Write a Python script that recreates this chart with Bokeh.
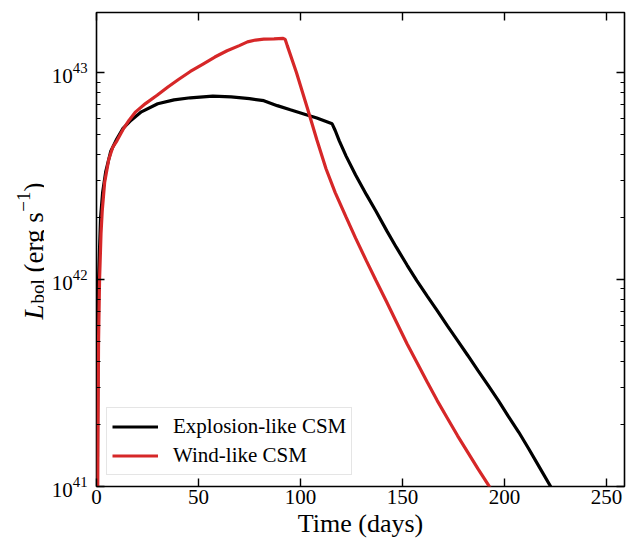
import numpy as np
from bokeh.plotting import figure
from bokeh.layouts import row
from bokeh.models import (Range1d, LinearAxis, LogAxis, FixedTicker, Legend, LegendItem,
                          Label, LogTickFormatter, CustomJSTickFormatter)
from bokeh.embed import file_html
from bokeh.resources import INLINE

# ---- data ----
explosion_t = [0.3, 0.5, 0.8, 1.0, 2.0, 3.0, 4.5, 7.0, 10.0, 13.0, 17.0, 22.0, 30.0, 38.0,
               46.0, 57.0, 66.0, 75.0, 82.0, 88.6, 95.0, 101.6, 108.0, 115.5, 117.0, 119.0,
               122.4, 127.0, 132.3, 137.0, 142.3, 147.0, 152.2, 157.0, 162.1, 167.0, 172.0,
               177.0, 182.0, 187.0, 191.9, 197.0, 201.8, 207.0, 211.7, 217.0, 222.6, 230.0]
explosion_logL = [40.5, 41.3, 41.8, 42.0, 42.30, 42.42, 42.52, 42.62, 42.68, 42.73, 42.77,
                  42.81, 42.849, 42.868, 42.878, 42.886, 42.882, 42.874, 42.864, 42.84, 42.82,
                  42.80, 42.78, 42.752, 42.72, 42.67, 42.595, 42.505, 42.41, 42.33, 42.235,
                  42.155, 42.07, 41.995, 41.92, 41.85, 41.776, 41.705, 41.633, 41.56, 41.49,
                  41.415, 41.34, 41.262, 41.185, 41.095, 41.0, 40.87]

wind_t = [0.4, 0.7, 1.0, 1.5, 2.2, 2.8, 4.0, 6.0, 8.0, 10.0, 13.0, 16.0, 19.2, 24.0, 29.7,
          35.0, 40.0, 46.0, 52.0, 58.0, 64.0, 70.0, 74.0, 78.0, 82.0, 87.0, 91.5, 92.5, 93.5,
          98.0, 103.6, 108.0, 112.5, 117.0, 122.4, 127.0, 132.3, 137.0, 142.3, 147.0, 152.2,
          157.0, 162.1, 167.0, 172.0, 177.0, 182.0, 187.0, 191.9, 197.0]
wind_logL = [40.5, 41.2, 41.7, 42.0, 42.22, 42.33, 42.47, 42.58, 42.64, 42.67, 42.725,
             42.77, 42.81, 42.85, 42.89, 42.93, 42.965, 43.005, 43.04, 43.075, 43.105, 43.13,
             43.148, 43.157, 43.161, 43.163, 43.165, 43.16, 43.13, 43.00, 42.82, 42.675,
             42.535, 42.42, 42.30, 42.20, 42.09, 41.995, 41.89, 41.795, 41.69, 41.60, 41.505,
             41.415, 41.33, 41.245, 41.165, 41.085, 41.01, 40.93]

series_names = ["Explosion-like CSM", "Wind-like CSM"]
series_colors = ["black", "#d62728"]
x_ticks = [0, 50, 100, 150, 200, 250]
y_ticks = [1e41, 1e42, 1e43]
y_minor = [k * 10.0 ** n for n in (41, 42, 43) for k in range(2, 10)]
x_title = "Time (days)"

SERIF = "Liberation Serif"
H = 544
LEFT_W = 44
TOP_B = 12
BOT_B = 58

p = figure(width=630 - LEFT_W, height=H, output_backend="svg", toolbar_location=None,
           y_axis_type="log", x_range=Range1d(0, 258.8), y_range=Range1d(1e41, 1.95e43),
           min_border_left=96 - LEFT_W, min_border_right=6, min_border_top=TOP_B,
           min_border_bottom=BOT_B)
p.grid.visible = False
p.outline_line_color = "black"
p.outline_line_width = 1.6
p.background_fill_color = "white"
p.border_fill_alpha = 0

r1 = p.line(explosion_t, [10.0 ** v for v in explosion_logL], line_color=series_colors[0],
            line_width=3.2)
r2 = p.line(wind_t, [10.0 ** v for v in wind_logL], line_color=series_colors[1],
            line_width=3.2)

xt = FixedTicker(ticks=x_ticks, minor_ticks=[])
yt = FixedTicker(ticks=y_ticks, minor_ticks=y_minor)

def style_axis(ax, labels=True):
    ax.axis_line_color = None
    ax.major_tick_in = 8
    ax.major_tick_out = 0
    ax.minor_tick_in = 4
    ax.minor_tick_out = 0
    ax.major_tick_line_width = 1.4
    ax.minor_tick_line_width = 1.1
    ax.major_tick_line_color = "black"
    ax.minor_tick_line_color = "black"
    if labels:
        ax.major_label_text_font = SERIF
        ax.major_label_text_font_size = "21px"
        ax.major_label_text_color = "black"
        ax.major_label_standoff = 3
    else:
        ax.formatter = CustomJSTickFormatter(code="return ''")
        ax.major_label_standoff = 0

p.xaxis.ticker = xt
p.yaxis.ticker = yt
p.yaxis.formatter = LogTickFormatter()
style_axis(p.xaxis[0])
style_axis(p.yaxis[0])
p.yaxis.major_label_standoff = 9

p.xaxis.axis_label = x_title
p.xaxis.axis_label_text_font = SERIF
p.xaxis.axis_label_text_font_size = "26px"
p.xaxis.axis_label_text_font_style = "normal"
p.xaxis.axis_label_text_color = "black"
p.xaxis.axis_label_standoff = 2

top_ax = LinearAxis(ticker=xt)
right_ax = LogAxis(ticker=yt)
style_axis(top_ax, labels=False)
style_axis(right_ax, labels=False)
p.add_layout(top_ax, "above")
p.add_layout(right_ax, "right")

legend = Legend(items=[LegendItem(label=series_names[0], renderers=[r1]),
                       LegendItem(label=series_names[1], renderers=[r2])],
                location=(10, 11), orientation="vertical")
legend.label_text_font = SERIF
legend.label_text_font_size = "21px"
legend.label_text_color = "black"
legend.glyph_width = 46
legend.glyph_height = 27
legend.label_height = 27
legend.label_standoff = 15
legend.spacing = 2
legend.padding = 5
legend.margin = 0
legend.border_line_color = "#cccccc"
legend.border_line_width = 1
legend.background_fill_alpha = 0.8
p.add_layout(legend)

# ---- y axis title in a narrow side figure: L_bol (erg s^-1) ----
# Its frame is aligned with the main frame (page y 12..486); the reversed y range makes
# the data value equal to the page pixel row.
q = figure(width=LEFT_W, height=H, output_backend="svg", toolbar_location=None,
           x_range=Range1d(0, LEFT_W), y_range=Range1d(H - BOT_B, TOP_B),
           x_axis_location=None, y_axis_location=None,
           min_border=0, min_border_left=0, min_border_right=0, min_border_top=TOP_B,
           min_border_bottom=BOT_B)
q.grid.visible = False
q.outline_line_color = None
q.background_fill_alpha = 0
q.border_fill_alpha = 0

big = 27
small = 19
# (text, font px, style, baseline x, gap before, advance)
pieces = [
    ("L", big, "italic", 33, 0, 0.556 * big + 1),
    ("bol", small, "normal", 37, 0, 1.278 * small),
    ("(erg s", big, "normal", 33, 0.25 * big, 2.249 * big),
    ("\u22121", small, "normal", 23, 0, 1.064 * small),
    (")", big, "normal", 33, 0, 0.333 * big),
]
ypos = 319
for txt, fs, style, bx, gap, w in pieces:
    ypos -= gap
    q.add_layout(Label(x=bx, y=ypos, text=txt, angle=np.pi / 2,
                       text_font=SERIF, text_font_size=f"{fs}px",
                       text_font_style=style, text_align="left",
                       text_baseline="alphabetic", text_color="black"))
    ypos -= w

layout = row(q, p, spacing=0)
open("out.html", "w").write(file_html(layout, INLINE))
